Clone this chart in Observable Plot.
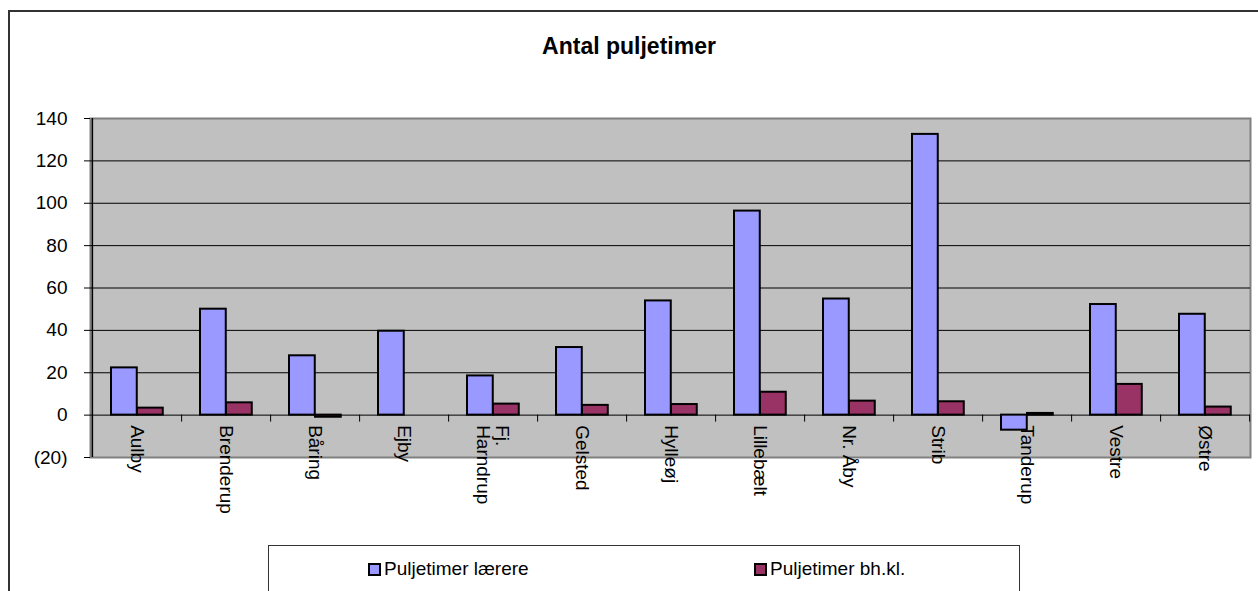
<!DOCTYPE html>
<html>
<head>
<meta charset="utf-8">
<script src="https://cdn.jsdelivr.net/npm/d3@7"></script>
<script src="https://cdn.jsdelivr.net/npm/@observablehq/plot@0.6"></script>
<style>
  html, body { margin: 0; padding: 0; background: #fff; width: 1258px; height: 591px; overflow: hidden; font-family: "Liberation Sans", Arial, sans-serif; }
  #outer { position: absolute; left: 8px; top: 10px; width: 1300px; height: 700px; border-left: 2px solid #333; border-top: 2px solid #333; }
  #title { position: absolute; left: 0; top: 33px; width: 1258px; text-align: center; font-weight: bold; font-size: 23px; color: #000; }
  #chart { position: absolute; left: 0; top: 100px; }
  #legend { position: absolute; left: 268px; top: 545px; width: 750px; height: 60px; border: 1px solid #333; background: #fff; }
  .item { position: absolute; top: 12px; font-size: 19px; display: flex; align-items: center; color: #000; }
  .sw { width: 9px; height: 9px; border: 2px solid #000; margin-right: 3px; }
</style>
</head>
<body>
<div id="outer"></div>
<div id="title">Antal puljetimer</div>
<div id="chart"></div>
<div id="legend"></div>
<script>
const categories = ["Aulby","Brenderup","Båring","Ejby","Fj.\nHarndrup","Gelsted","Hylleøj","Lillebælt","Nr. Åby","Strib","Tanderup","Vestre","Østre"];
const laerere = [22.3, 50, 28, 39.6, 18.5, 31.9, 53.9, 96.3, 54.8, 132.5, -7.1, 52.2, 47.6];
const bhkl = [3.3, 5.8, -1, null, 5.2, 4.6, 5.0, 10.8, 6.6, 6.3, 0.8, 14.5, 3.8];
const seriesNames = ["Puljetimer lærere", "Puljetimer bh.kl."];
const seriesColors = ["#9999FF", "#993366"];
const yTicks = [-20, 0, 20, 40, 60, 80, 100, 120, 140];
const gridValues = [0, 20, 40, 60, 80, 100, 120];

const W = 1258, H = 445, mL = 90, mR = 8, mT = 18, mB = 88;
const step = (W - mL - mR) / categories.length;

const dataL = categories.map((c, i) => ({cat: c, v: laerere[i]}));
const dataB = categories.map((c, i) => ({cat: c, v: bhkl[i]})).filter(d => d.v != null);

const chart = Plot.plot({
  width: W, height: H,
  marginLeft: mL, marginRight: mR, marginTop: mT, marginBottom: mB,
  style: {fontFamily: "'Liberation Sans', Arial, sans-serif", fontSize: "19px", color: "#000", background: "transparent"},
  x: {domain: categories, padding: 0, axis: null, label: null},
  y: {domain: [-20, 140], ticks: yTicks, axis: null, label: null},
  marks: [
    Plot.frame({fill: "#C0C0C0", stroke: "#808080", strokeWidth: 2}),
    Plot.ruleY(gridValues, {stroke: "#000", strokeWidth: 1}),
    Plot.axisY({ticks: yTicks, tickSize: 6, tickPadding: 17, fontSize: 19, stroke: "#000", label: null,
      tickFormat: d => d < 0 ? `(${-d})` : `${d}`}),
    Plot.ruleX([categories[0]], {x: d => d, y1: -20, y2: 140, dx: -step / 2, stroke: "#000", strokeWidth: 1.5}),
    Plot.ruleX(categories, {x: d => d, y1: 0, y2: -3.3, dx: step / 2, stroke: "#000", strokeWidth: 1}),
    Plot.barY(dataL, {x: "cat", y: "v", fill: seriesColors[0], stroke: "#000", strokeWidth: 2,
      insetLeft: 19, insetRight: step - 45}),
    Plot.barY(dataB, {x: "cat", y: "v", fill: seriesColors[1], stroke: "#000", strokeWidth: 2,
      insetLeft: 45, insetRight: step - 71}),
    Plot.text(categories, {x: d => d, y: 0, rotate: 90, textAnchor: "start",
      dy: 10, dx: 0, fontSize: 19, fill: "#000"})
  ]
});
document.getElementById("chart").appendChild(chart);

const legend = document.getElementById("legend");
const legX = [99, 485];
seriesNames.forEach((n, i) => {
  const item = document.createElement("div");
  item.className = "item";
  item.style.left = legX[i] + "px";
  const sw = document.createElement("div");
  sw.className = "sw";
  sw.style.background = seriesColors[i];
  const t = document.createElement("span");
  t.textContent = n;
  item.appendChild(sw); item.appendChild(t);
  legend.appendChild(item);
});
</script>
</body>
</html>
